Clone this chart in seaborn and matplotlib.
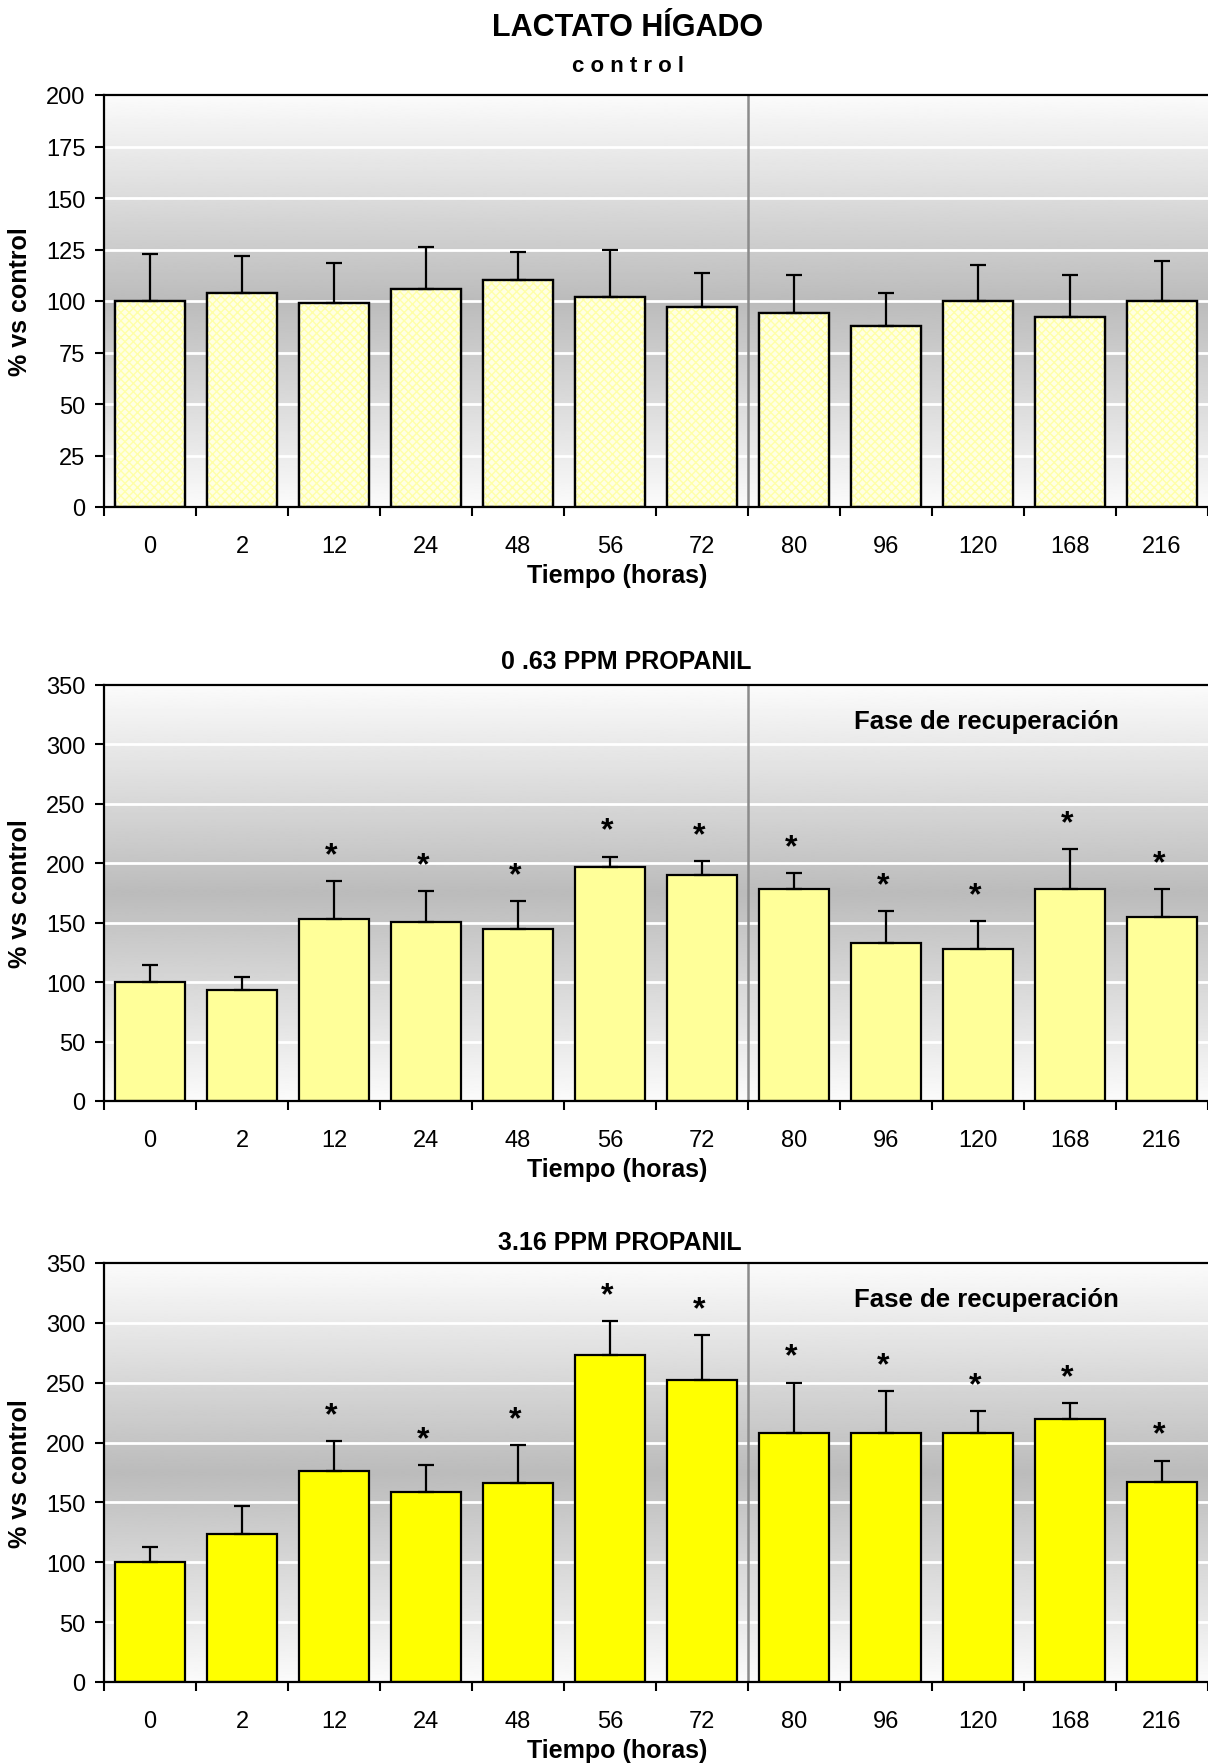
import numpy as np
import pandas as pd
import matplotlib
matplotlib.use("Agg")
import matplotlib.pyplot as plt
import seaborn as sns
from matplotlib.patches import Rectangle

# Sampling times (hours)
horas = ["0", "2", "12", "24", "48", "56", "72", "80", "96", "120", "168", "216"]

# Liver lactate, % of control (mean and upper error)
control_media = [100, 104, 99, 106, 110, 102, 97, 94, 88, 100, 92, 100]
control_err = [23, 18, 19.5, 20, 14, 23, 16.5, 18.5, 16, 17.5, 20.5, 19.5]

p063_media = [100, 93, 153, 151, 145, 197, 190, 178, 133, 128, 178, 155]
p063_err = [14.5, 11, 32, 25.5, 23, 8.5, 12, 13.5, 27, 23.5, 34, 23]
p063_sig = [False, False, True, True, True, True, True, True, True, True, True, True]

p316_media = [100, 124, 176, 159, 166, 273, 252, 208, 208, 208, 220, 167]
p316_err = [12.5, 23, 25, 22, 32, 28.5, 38, 42, 35, 18.5, 13, 18]
p316_sig = [False, False, True, True, True, True, True, True, True, True, True, True]

W, H = 1208, 1765
sns.set_theme(style="white")
plt.rcParams["font.family"] = ["Liberation Sans", "DejaVu Sans"]
plt.rcParams["hatch.linewidth"] = 1.0
for key in ["text.color", "axes.labelcolor", "xtick.color", "ytick.color",
            "xtick.labelcolor", "ytick.labelcolor"]:
    plt.rcParams[key] = "black"

fig = plt.figure(figsize=(W / 100, H / 100), dpi=100)


def px_axes(top, bottom, left=104, right=1208):
    return fig.add_axes([left / W, 1 - bottom / H, (right - left) / W, (bottom - top) / H])


def background(ax, ymax):
    t = np.linspace(0, 1, 400)
    v = 0.985 - 0.25 * (1 - np.abs(2 * t - 1))
    ax.imshow(v[:, None], extent=[-0.5, 11.5, 0, ymax], aspect="auto",
              cmap="gray", vmin=0, vmax=1, zorder=0, interpolation="bilinear")


def panel(ax, media, err, color, ymax, step, sig=None, fase=False, hatched=False):
    background(ax, ymax)
    df = pd.DataFrame({"horas": horas, "valor": media})
    sns.barplot(data=df, x="horas", y="valor", order=horas, color=color,
                saturation=1, width=0.77, edgecolor="black", linewidth=1.6,
                errorbar=None, ax=ax, zorder=2)
    if hatched:
        for p in list(ax.patches):
            ax.add_patch(Rectangle(p.get_xy(), p.get_width(), p.get_height(),
                                   facecolor="none", edgecolor="#FFFFA8", lw=0,
                                   hatch="xxxx", zorder=2.1))
            ax.add_patch(Rectangle(p.get_xy(), p.get_width(), p.get_height(),
                                   facecolor="none", edgecolor="black", lw=1.6,
                                   zorder=2.2))
    x = np.arange(len(horas))
    ax.errorbar(x, media, yerr=[np.zeros(len(err)), err], fmt="none",
                ecolor="black", elinewidth=1.6, capsize=6, capthick=1.6, zorder=2.3)
    if sig is not None:
        for i, s in enumerate(sig):
            if s:
                ax.annotate("*", xy=(i, media[i] + err[i]), xytext=(-2, 13),
                            textcoords="offset points", ha="center", va="baseline",
                            fontsize=23, fontweight="bold", color="black")
    ax.axvline(6.5, color="#8c8c8c", lw=1.8, zorder=2.5)
    if fase:
        ax.text(9.09, ymax * 0.914, "Fase de recuperación", ha="center", va="center",
                fontsize=18.5, fontweight="bold", color="black", zorder=3)

    ax.set_xlim(-0.5, 11.5)
    ax.set_ylim(0, ymax)
    ax.set_yticks(np.arange(0, ymax + 1, step))
    ax.yaxis.grid(True, color="white", lw=2)
    ax.set_axisbelow(True)
    ax.xaxis.grid(False)

    ax.set_xticks(np.arange(-0.5, 12, 1))
    ax.set_xticklabels([])
    ax.set_xticks(x, minor=True)
    ax.set_xticklabels(horas, minor=True)
    ax.tick_params(axis="x", which="major", direction="out", length=6.5, width=1.5,
                   color="black", bottom=True)
    ax.tick_params(axis="x", which="minor", length=0, pad=20, labelsize=17,
                   labelcolor="black")
    ax.tick_params(axis="y", direction="out", length=6.5, width=1.5, color="black",
                   left=True, pad=7, labelsize=17, labelcolor="black")

    for side in ["left", "bottom", "top"]:
        ax.spines[side].set_visible(True)
        ax.spines[side].set_color("black")
        ax.spines[side].set_linewidth(1.6)
    ax.spines["right"].set_visible(False)

    ax.set_xlabel("Tiempo (horas)", fontsize=18, fontweight="bold", va="center",
                  color="black")
    ax.set_ylabel("% vs control", fontsize=18, fontweight="bold", va="center",
                  color="black")
    hpx = ax.get_position().height * H
    ax.xaxis.set_label_coords(0.465, -68 / hpx)
    ax.yaxis.set_label_coords(-84 / 1104, 0.5)


ax1 = px_axes(96, 508)
panel(ax1, control_media, control_err, "#FFFFE4", 200, 25, hatched=True)

ax2 = px_axes(686, 1102)
panel(ax2, p063_media, p063_err, "#FFFF99", 350, 50, sig=p063_sig, fase=True)

ax3 = px_axes(1264, 1683)
panel(ax3, p316_media, p316_err, "#FFFF00", 350, 50, sig=p316_sig, fase=True)

fig.text(628 / W, 1 - 28 / H, "LACTATO HÍGADO", ha="center", va="center",
         fontsize=22, fontweight="bold", color="black")
fig.text(628 / W, 1 - 67 / H, "c o n t r o l", ha="center", va="center",
         fontsize=16, fontweight="bold", color="black")
fig.text(626 / W, 1 - 662 / H, "0 .63 PPM PROPANIL", ha="center", va="center",
         fontsize=18, fontweight="bold", color="black")
fig.text(620 / W, 1 - 1243 / H, "3.16 PPM PROPANIL", ha="center", va="center",
         fontsize=18, fontweight="bold", color="black")

fig.savefig("out.png", dpi=100, facecolor="white")
